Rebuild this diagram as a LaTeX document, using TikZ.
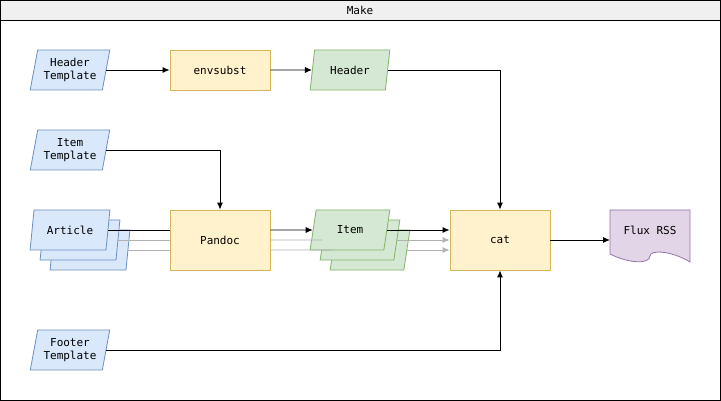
\documentclass[tikz,border=0pt]{standalone}
\usepackage{fontspec}
\setmainfont{DejaVu Sans Mono}
\usetikzlibrary{shapes.geometric,positioning,arrows.meta}
\definecolor{bluef}{HTML}{DAE8FC}\definecolor{blued}{HTML}{6C8EBF}
\definecolor{yelf}{HTML}{FFF2CC}\definecolor{yeld}{HTML}{D6B656}
\definecolor{grnf}{HTML}{D5E8D4}\definecolor{grnd}{HTML}{82B366}
\definecolor{purf}{HTML}{E1D5E7}\definecolor{purd}{HTML}{9673A6}
\tikzset{
  basic/.style  = {draw, line width=0.8pt, align=center, font=\fontsize{11}{13}\selectfont},
  data/.style   = {basic, trapezium, trapezium left angle=76, trapezium right angle=104,
                   trapezium stretches=true, minimum width=80pt, minimum height=40pt, inner sep=1pt},
  input/.style  = {data, fill=bluef, draw=blued},
  output/.style = {data, fill=grnf, draw=grnd},
  process/.style= {basic, rectangle, fill=yelf, draw=yeld, minimum width=100pt},
  flow/.style   = {-{Latex[length=7pt,width=6pt]}, line width=0.9pt},
  ghost/.style  = {flow, draw=gray!60}
}
\begin{document}
\begin{tikzpicture}[x=1pt, y=-1pt]
\useasboundingbox (0,0) rectangle (721,401);

% frame
\draw[fill=gray!12, line width=0.8pt] (0.5,0.5) rectangle (720.5,20.5);
\draw[line width=0.8pt] (0.5,20.5) rectangle (720.5,400.5);
\node[font=\fontsize{11}{13}\selectfont] (title) at (360,10) {Make};

% inputs
\node[input] (ht) at (70,70) {Header\\Template};
\node[input] (it) at (70,150) {Item\\Template};
\node[input] (a3) at (90,250) {\phantom{Article}};
\node[input] (a2) at (80,240) {\phantom{Article}};
\node[input] (a1) at (70,230) {Article};
\node[input] (ft) at (70,350) {Footer\\Template};

% processes
\node[process, minimum height=40pt] (env) at (220,70) {envsubst};
\node[process, minimum height=60pt] (pan) at (220,240) {Pandoc};
\node[process, minimum height=60pt] (cat) at (500,240) {cat};

% outputs
\node[output] (hd) at (350,70) {Header};
\node[output] (i3) at (370,250) {\phantom{Item}};
\node[output] (i2) at (360,240) {\phantom{Item}};
\node[output] (i1) at (350,230) {Item};

% result document
\draw[draw=purd, fill=purf, line width=0.8pt] (610,210) -- (690,210) -- (690,262)
  .. controls (670,250) and (650,250) .. (650,256)
  .. controls (650,264) and (630,264) .. (610,254) -- cycle;
\node[basic, draw=none] (rss) at (650,230) {Flux RSS};
\coordinate (rssin) at (610,240);

% connectors
\draw[flow] (ht.east) -- (env.west);
\draw[flow] (env.east) -- (hd.west);
\draw[flow] (hd.east) -| (cat.north);
\draw[flow] (it.east) -| (pan.north);
\draw[line width=0.9pt] (a1.east) -- (a1.east -| pan.west);
\draw[line width=0.9pt, draw=gray!60] (a2.east) -- (a2.east -| pan.west);
\draw[line width=0.9pt, draw=gray!60] (a3.east) -- (a3.east -| pan.west);
\draw[flow] (pan.east |- i1) -- (i1.west);
\draw[line width=0.9pt, draw=gray!60] (pan.east |- i2) -- (i2.west);
\draw[line width=0.9pt, draw=gray!60] (pan.east |- i3) -- (i3.west);
\draw[flow] (i1.east) -- (i1.east -| cat.west);
\draw[ghost] (i2.east) -- (i2.east -| cat.west);
\draw[ghost] (i3.east) -- (i3.east -| cat.west);
\draw[flow] (ft.east) -| (cat.south);
\draw[flow] (cat.east) -- (rssin);
\end{tikzpicture}
\end{document}
